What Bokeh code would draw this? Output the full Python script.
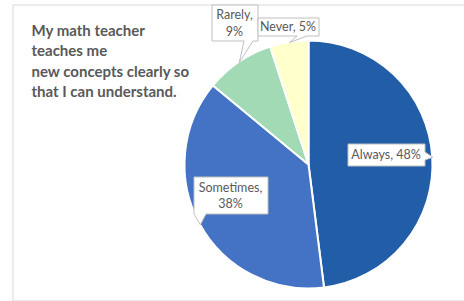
import math
from bokeh.plotting import figure
from bokeh.models import Range1d, ColumnDataSource
from bokeh.core.properties import value
from bokeh.embed import file_html
from bokeh.resources import INLINE

# ---- data ----
categories = ["Always", "Sometimes", "Rarely", "Never"]
percents = [48, 38, 9, 5]
colors = ["#225EA8", "#4472C4", "#A1DAB4", "#FFFFCC"]
title_lines = ["My math teacher", "teaches me", "new concepts clearly so", "that I can understand."]

# ---- layout (screen px of the 464x301 window) ----
W, H = 464, 301
X0, Y0 = 0, 0
def sy(y):  # screen y -> data y
    return 301 - y

cx, cy, R = 308, 164, 124

# label boxes (left, top, right, bottom) and pointer base points
box_l = [347, 193, 211, 257]
box_t = [143, 176, 4, 17]
box_r = [424, 267, 257, 318]
box_b = [165, 213, 40, 35]
ptr_side = ["right", "bottom", "bottom", "bottom"]
ptr_a = [151, 193, 243, 296]
ptr_b = [159, 205, 252, 306]
two_line = [False, True, True, False]

p = figure(width=W, height=H, output_backend="svg", toolbar_location=None,
           x_range=Range1d(X0, X0 + W), y_range=Range1d(sy(Y0 + H), sy(Y0)),
           min_border=0)
p.axis.visible = False
p.grid.visible = False
p.outline_line_color = None
p.background_fill_color = "white"
p.border_fill_color = "white"

# chart area border
p.line([12.5, 12.5, 470], [sy(300.5), sy(4.5), sy(4.5)], line_color="#D9D9D9", line_width=1)
p.line([12.5, 470], [sy(300.5), sy(300.5)], line_color="#D9D9D9", line_width=1)

# pie wedges
total = sum(percents)
starts, ends, mids = [], [], []
a = math.pi / 2
for v in percents:
    sweep = 2 * math.pi * v / total
    starts.append(a)
    ends.append(a - sweep)
    mids.append(a - sweep / 2)
    a -= sweep
src = ColumnDataSource(dict(x=[cx] * len(percents), y=[sy(cy)] * len(percents),
                            start=starts, end=ends, color=colors))
p.wedge(x="x", y="y", radius=R, start_angle="start", end_angle="end",
        direction="clock", fill_color="color", line_color="white", line_width=2,
        source=src)

# callouts
xs, ys = [], []
txt_x, txt_y, txt = [], [], []
for i, cat in enumerate(categories):
    tipx = cx + R * math.cos(mids[i])
    tipy = cy - R * math.sin(mids[i])
    l, t, r, b = box_l[i], box_t[i], box_r[i], box_b[i]
    if ptr_side[i] == "right":
        px = [l, r, r, tipx, r, r, l]
        py = [t, t, ptr_a[i], tipy, ptr_b[i], b, b]
    else:
        px = [l, r, r, ptr_b[i], tipx, ptr_a[i], l]
        py = [t, t, b, b, tipy, b, b]
    xs.append([v + 0.5 for v in px])
    ys.append([sy(v + 0.5) for v in py])
    mx = (l + r) / 2
    my = (t + b) / 2
    if two_line[i]:
        txt_x += [mx, mx]
        txt_y += [sy(my - 8), sy(my + 8.5)]
        txt += [f"{cat},", f"{percents[i]}%"]
    else:
        txt_x.append(mx)
        txt_y.append(sy(my))
        txt.append(f"{cat}, {percents[i]}%")

p.patches(xs, ys, fill_color="white", line_color="#BFBFBF", line_width=1)
p.text(txt_x, txt_y, text=txt, text_font=value("Lato"), text_font_size="12.5px",
       text_color="#595959", text_align="center", text_baseline="middle")

# title
title_y = [29, 49, 70, 90]
p.text([31] * len(title_lines), [sy(v) for v in title_y], text=title_lines,
       text_font=value("Lato"), text_font_style="bold", text_font_size="15px",
       text_color="#595959", text_align="left", text_baseline="middle")

open("out.html", "w").write(file_html(p, INLINE))
